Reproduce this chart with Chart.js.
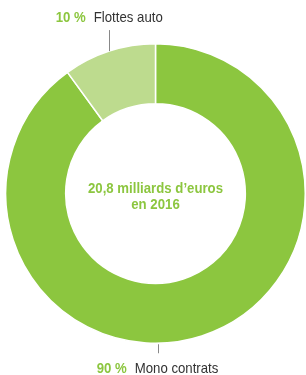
<!DOCTYPE html>
<html>
<head>
<meta charset="utf-8">
<script src="https://cdn.jsdelivr.net/npm/chart.js@4"></script>
<style>
  html, body { margin: 0; padding: 0; background: #fff; }
  #wrap { width: 306px; height: 375px; position: relative; }
</style>
</head>
<body>
<div id="wrap"><canvas id="donut"></canvas></div>
<script>
// Données du graphique
const categories = ['Mono contrats', 'Flottes auto'];
const values = [90, 10];
const percentLabels = ['90 %', '10 %'];
const centerLines = ['20,8 milliards d\u2019euros', 'en 2016'];

const GREEN = '#8cc63f';
const LIGHT = '#bddb8e';
const FONT = '"Liberation Sans", Arial, sans-serif';
const SX = 0.88; // compression horizontale (police condensée)

// largeur d'un texte compressé
function textWidth(ctx, txt, font) {
    ctx.font = font;
    return ctx.measureText(txt).width * SX;
}

// dessine un texte compressé, x = bord gauche
function drawText(ctx, txt, x, y, font, color) {
    ctx.save();
    ctx.translate(x, y);
    ctx.scale(SX, 1);
    ctx.font = font;
    ctx.fillStyle = color;
    ctx.textAlign = 'left';
    ctx.textBaseline = 'alphabetic';
    ctx.fillText(txt, 0, 0);
    ctx.restore();
}

// Étiquettes avec traits de rappel + texte central
const labelPlugin = {
    id: 'labels',
    afterDraw(chart) {
        const ctx = chart.ctx;
        const arcs = chart.getDatasetMeta(0).data;
        const bold = 'bold 15px ' + FONT;
        const normal = '15px ' + FONT;
        ctx.save();

        // texte central
        const c = arcs[0];
        centerLines.forEach((line, k) => {
            const w = textWidth(ctx, line, bold);
            drawText(ctx, line, c.x - w / 2, c.y - 1 + k * 16, bold, GREEN);
        });

        // libellés des segments
        arcs.forEach((arc, i) => {
            let lx, ly0, ly1, ty;
            if (i === 1) {
                // milieu de l'arc, trait vers le haut
                const a = (arc.startAngle + arc.endAngle) / 2;
                lx = arc.x + Math.cos(a) * arc.outerRadius;
                ly0 = arc.y + Math.sin(a) * arc.outerRadius;
                ly1 = ly0 - 21;
                ty = ly1 - 8;
            } else {
                // bas du cercle, trait vers le bas
                lx = arc.x + 2;
                ly0 = arc.y + arc.outerRadius + 1;
                ly1 = ly0 + 9;
                ty = ly1 + 20;
            }
            ctx.strokeStyle = '#888';
            ctx.lineWidth = 1;
            ctx.beginPath();
            ctx.moveTo(Math.round(lx) + 0.5, ly0);
            ctx.lineTo(Math.round(lx) + 0.5, ly1);
            ctx.stroke();

            const w1 = textWidth(ctx, percentLabels[i], bold);
            const w2 = textWidth(ctx, categories[i], normal);
            const gap = 8;
            const x0 = lx - (w1 + gap + w2) / 2;
            drawText(ctx, percentLabels[i], x0, ty, bold, GREEN);
            drawText(ctx, categories[i], x0 + w1 + gap, ty, normal, '#333');
        });
        ctx.restore();
    }
};

const chart = new Chart(document.getElementById('donut'), {
    type: 'doughnut',
    data: {
        labels: categories,
        datasets: [{
            data: values,
            backgroundColor: [GREEN, LIGHT],
            borderColor: '#fff',
            borderWidth: 1.5,
            hoverOffset: 0
        }]
    },
    options: {
        responsive: true,
        maintainAspectRatio: false,
        animation: false,
        cutout: '60%',
        layout: { padding: { left: 5, right: 0, top: 43, bottom: 31 } },
        plugins: {
            legend: { display: false },
            tooltip: { enabled: false }
        }
    },
    plugins: [labelPlugin]
});
</script>
</body>
</html>
